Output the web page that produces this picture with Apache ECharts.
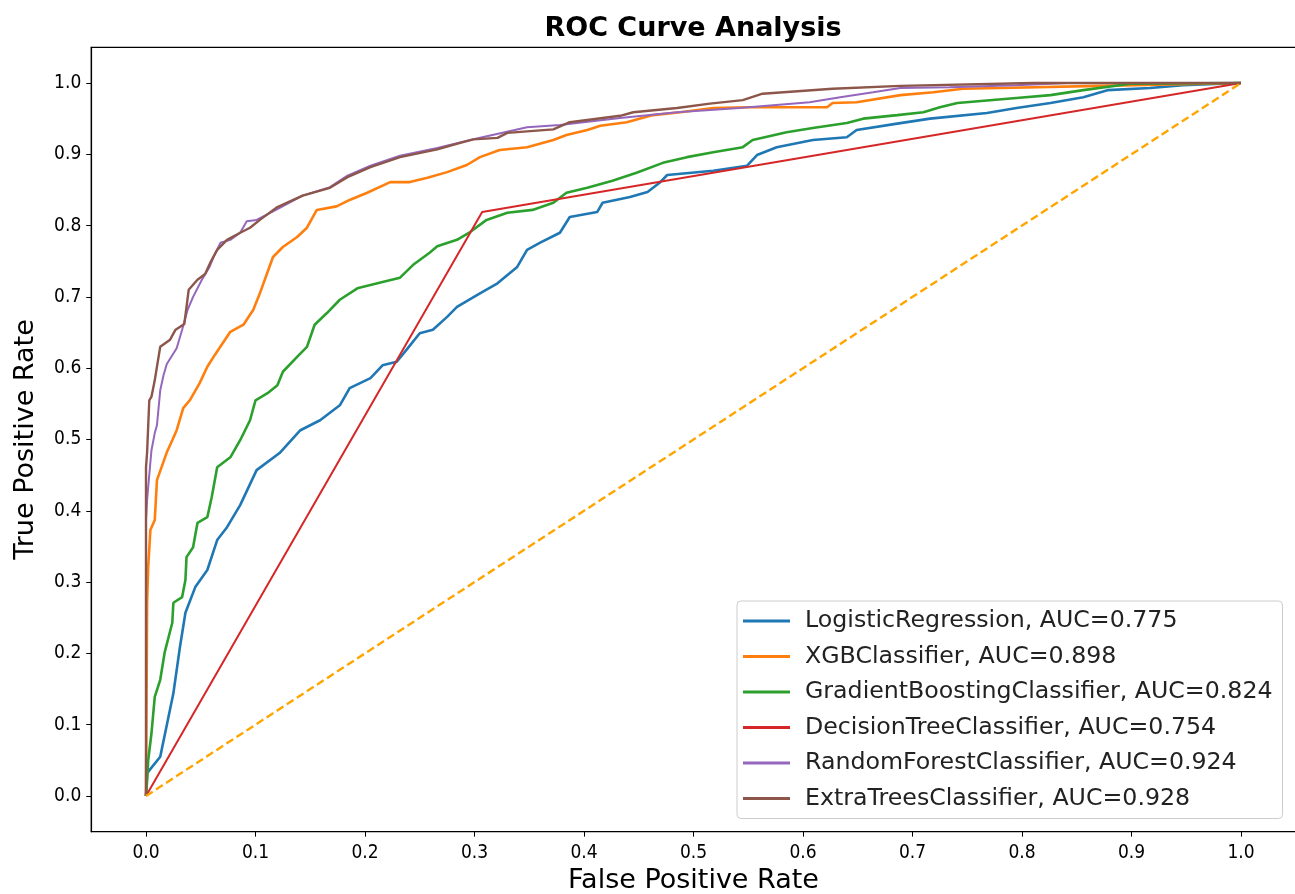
<!DOCTYPE html>
<html>
<head>
<meta charset="utf-8">
<script src="https://cdn.jsdelivr.net/npm/echarts@6/dist/echarts.min.js"></script>
<style>html,body{margin:0;padding:0;background:#fff;}#chart{width:1295px;height:894px;}</style>
</head>
<body>
<div id="chart"></div>
<script>
var tickValues = [0, 0.1, 0.2, 0.3, 0.4, 0.5, 0.6, 0.7, 0.8, 0.9, 1.0];

var fprLR = [0,0.001,0.013,0.020,0.025,0.031,0.036,0.045,0.056,0.065,0.074,0.086,0.101,0.122,0.141,0.159,0.177,0.186,0.205,0.216,0.229,0.238,0.250,0.262,0.275,0.284,0.305,0.321,0.339,0.348,0.360,0.378,0.387,0.412,0.417,0.442,0.458,0.469,0.476,0.518,0.549,0.558,0.576,0.609,0.640,0.649,0.686,0.716,0.768,0.795,0.826,0.856,0.878,0.917,0.947,1];
var tprLR = [0,0.032,0.055,0.107,0.144,0.209,0.257,0.293,0.317,0.359,0.377,0.408,0.457,0.481,0.513,0.527,0.548,0.572,0.586,0.604,0.609,0.626,0.649,0.654,0.672,0.686,0.705,0.719,0.742,0.766,0.776,0.790,0.812,0.819,0.832,0.840,0.847,0.860,0.871,0.877,0.884,0.899,0.910,0.920,0.924,0.934,0.943,0.950,0.958,0.965,0.972,0.980,0.990,0.993,0.997,1];

var fprXGB = [0,0.001,0.001,0.002,0.004,0.008,0.010,0.019,0.024,0.028,0.034,0.040,0.049,0.056,0.063,0.070,0.077,0.089,0.098,0.104,0.111,0.116,0.125,0.138,0.147,0.156,0.174,0.186,0.202,0.223,0.241,0.257,0.275,0.293,0.305,0.323,0.348,0.372,0.384,0.403,0.415,0.439,0.463,0.488,0.518,0.549,0.622,0.627,0.649,0.689,0.719,0.746,0.780,0.871,1];
var tprXGB = [0,0.271,0.271,0.321,0.373,0.387,0.443,0.482,0.499,0.513,0.544,0.555,0.579,0.602,0.619,0.635,0.651,0.661,0.682,0.705,0.735,0.756,0.770,0.784,0.797,0.822,0.827,0.836,0.846,0.861,0.861,0.867,0.875,0.885,0.896,0.906,0.910,0.920,0.927,0.934,0.940,0.945,0.955,0.959,0.965,0.966,0.966,0.972,0.973,0.983,0.987,0.992,0.993,0.996,1];

var fprGB = [0,0.001,0.002,0.005,0.008,0.013,0.017,0.024,0.025,0.033,0.036,0.037,0.043,0.047,0.056,0.060,0.065,0.077,0.086,0.095,0.100,0.111,0.120,0.125,0.138,0.147,0.154,0.165,0.177,0.193,0.216,0.232,0.244,0.259,0.266,0.284,0.296,0.311,0.330,0.353,0.372,0.384,0.403,0.426,0.448,0.472,0.494,0.518,0.545,0.554,0.585,0.609,0.640,0.655,0.686,0.710,0.725,0.741,0.795,0.826,0.856,0.899,1];
var tprGB = [0,0.022,0.050,0.088,0.139,0.163,0.201,0.243,0.271,0.279,0.303,0.335,0.349,0.383,0.391,0.419,0.461,0.475,0.499,0.527,0.555,0.565,0.576,0.595,0.616,0.630,0.661,0.677,0.696,0.712,0.721,0.727,0.745,0.762,0.771,0.780,0.791,0.808,0.818,0.822,0.832,0.846,0.853,0.863,0.874,0.888,0.896,0.903,0.910,0.920,0.931,0.937,0.944,0.950,0.955,0.959,0.966,0.972,0.979,0.983,0.990,0.999,1];

var fprDT = [0, 0.307, 1];
var tprDT = [0, 0.819, 1];

var fprRF = [0,0,0.001,0.002,0.005,0.008,0.010,0.013,0.016,0.019,0.028,0.033,0.038,0.043,0.051,0.058,0.062,0.068,0.077,0.086,0.092,0.101,0.120,0.143,0.168,0.184,0.205,0.232,0.266,0.299,0.348,0.378,0.433,0.485,0.542,0.606,0.634,0.664,0.689,0.734,0.795,0.841,1];
var tprRF = [0,0.387,0.415,0.433,0.485,0.509,0.520,0.569,0.590,0.606,0.628,0.654,0.682,0.700,0.724,0.742,0.757,0.776,0.780,0.790,0.806,0.808,0.823,0.842,0.854,0.870,0.884,0.898,0.909,0.921,0.938,0.941,0.951,0.959,0.965,0.973,0.980,0.987,0.993,0.994,0.997,1,1];

var fprET = [0,0,0.001,0.003,0.005,0.008,0.010,0.013,0.022,0.027,0.035,0.039,0.047,0.054,0.059,0.065,0.074,0.086,0.095,0.104,0.120,0.143,0.168,0.184,0.205,0.232,0.266,0.287,0.299,0.321,0.330,0.372,0.387,0.433,0.445,0.485,0.515,0.545,0.563,0.627,0.689,0.810,1];
var tprET = [0,0.461,0.482,0.555,0.560,0.583,0.602,0.630,0.640,0.654,0.662,0.710,0.724,0.732,0.749,0.766,0.780,0.790,0.797,0.808,0.826,0.842,0.853,0.868,0.882,0.896,0.907,0.916,0.921,0.923,0.930,0.935,0.945,0.954,0.959,0.965,0.971,0.976,0.985,0.992,0.996,1,1];

var fprChance = [0, 1];
var tprChance = [0, 1];

var modelNames = ['LogisticRegression, AUC=0.775','XGBClassifier, AUC=0.898','GradientBoostingClassifier, AUC=0.824','DecisionTreeClassifier, AUC=0.754','RandomForestClassifier, AUC=0.924','ExtraTreesClassifier, AUC=0.928'];
var colors = ['#1f77b4','#ff7f0e','#2ca02c','#d62728','#9467bd','#8c564b'];
var widths = [2.6, 2.6, 2.6, 2, 2, 2.4];
var fprs = [fprLR, fprXGB, fprGB, fprDT, fprRF, fprET];
var tprs = [tprLR, tprXGB, tprGB, tprDT, tprRF, tprET];

function pairs(xs, ys){ var out=[]; for(var i=0;i<xs.length;i++){ out.push([xs[i], ys[i]]); } return out; }

var series = [];
for (var k=0;k<modelNames.length;k++){
  series.push({
    name: modelNames[k], type:'line', data: pairs(fprs[k], tprs[k]),
    showSymbol:false, symbol:'none', animation:false, z: 2+k,
    lineStyle:{color:colors[k], width:widths[k]}, itemStyle:{color:colors[k]}
  });
}
series.push({
  name:'chance', type:'line', data: pairs(fprChance, tprChance), showSymbol:false, symbol:'none', animation:false, z:10,
  lineStyle:{color:'#ffa500', width:2.4, type:[8,4]}, itemStyle:{color:'#ffa500'}
});

var tickFont = 'DejaVu Sans Condensed, DejaVu Sans, sans-serif';
var chart = echarts.init(document.getElementById('chart'), null, {renderer:'canvas'});
chart.setOption({
  backgroundColor:'#fff',
  animation:false,
  title:{
    text:'ROC Curve Analysis', left:693, top:15, textAlign:'center', padding:0,
    textStyle:{fontFamily:'DejaVu Sans', fontWeight:'bold', fontSize:27, color:'#000'}
  },
  grid:{left:91.25, top:47.35, width:1204.5, height:784.3, show:true, borderColor:'#000', borderWidth:1.2, containLabel:false, outerBoundsMode:'none'},
  legend:{
    data: modelNames, orient:'vertical', left:737, top:601,
    padding:[8,10,8,6], itemGap:11.5, itemWidth:47, itemHeight:3, icon:'rect',
    backgroundColor:'#fff', borderColor:'#cccccc', borderWidth:1, borderRadius:4,
    textStyle:{fontFamily:'DejaVu Sans', fontSize:23.7, color:'#222', lineHeight:24, padding:[0,0,0,10]}
  },
  xAxis:{
    type:'value', min:-0.05, max:1.05,
    name:'False Positive Rate', nameLocation:'middle', nameGap:36,
    nameTextStyle:{fontFamily:'DejaVu Sans', fontSize:27, color:'#000'},
    axisLine:{show:true, onZero:false, lineStyle:{color:'#000', width:1.2}},
    axisTick:{show:true, length:5, lineStyle:{color:'#000'}, customValues:tickValues},
    axisLabel:{show:true, margin:12, fontFamily:tickFont, fontSize:19, color:'#000', customValues:tickValues, formatter:function(v){return v.toFixed(1);}},
    splitLine:{show:false}
  },
  yAxis:{
    type:'value', min:-0.05, max:1.05,
    name:'True Positive Rate', nameLocation:'middle', nameGap:52, nameRotate:90,
    nameTextStyle:{fontFamily:'DejaVu Sans', fontSize:27, color:'#000'},
    axisLine:{show:true, onZero:false, lineStyle:{color:'#000', width:1.2}},
    axisTick:{show:true, length:5, lineStyle:{color:'#000'}, customValues:tickValues},
    axisLabel:{show:true, margin:10, fontFamily:tickFont, fontSize:19, color:'#000', customValues:tickValues, formatter:function(v){return v.toFixed(1);}},
    splitLine:{show:false}
  },
  series: series
});
</script>
</body>
</html>
